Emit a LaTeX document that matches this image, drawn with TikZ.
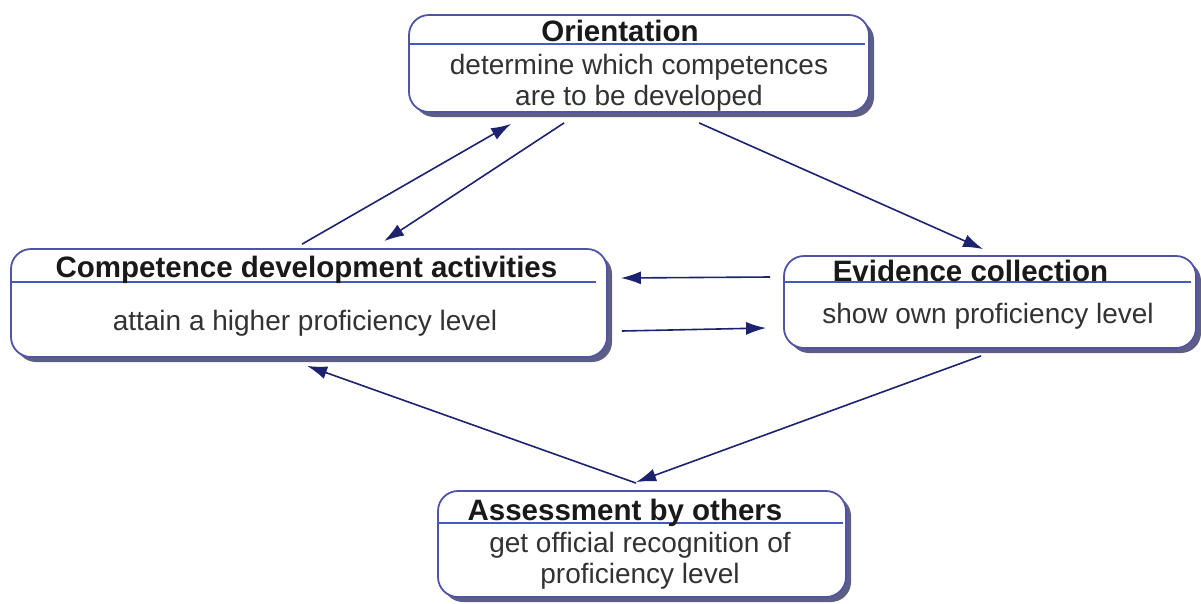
\documentclass[tikz,border=0pt]{standalone}
\usepackage{fontspec}
\setmainfont{Liberation Sans}
\usetikzlibrary{arrows.meta,calc,shadows}
\definecolor{boxc}{RGB}{80,84,165}
\definecolor{hdrc}{RGB}{70,90,190}
\definecolor{arrc}{RGB}{28,34,110}
\definecolor{shc}{RGB}{85,85,125}
\definecolor{txtc}{RGB}{25,25,25}
\definecolor{bodyc}{RGB}{50,50,50}
\tikzset{
  box/.style={draw=boxc, line width=1.8pt, rounded corners=20pt, fill=white,
    inner sep=0pt, drop shadow={shadow xshift=5pt, shadow yshift=-5pt, fill=shc, opacity=0.95}},
  hdr/.style={draw=hdrc, line width=1.4pt},
  ttl/.style={inner sep=0pt, text=txtc, font=\bfseries\fontsize{29.5}{32}\selectfont},
  bdy/.style={inner sep=0pt, text=bodyc, align=center, font=\fontsize{28}{31}\selectfont},
  arr/.style={draw=arrc, line width=1.6pt, -{Latex[length=20pt,width=13pt]}}
}
\begin{document}
\begin{tikzpicture}[x=1pt,y=-1pt]
\useasboundingbox (0,0) rectangle (1201,603);
% boxes
\node[box, minimum width=460pt, minimum height=97pt] (orient) at (639,63.5) {};
\node[box, minimum width=596pt, minimum height=108pt] (comp) at (309,303) {};
\node[box, minimum width=412pt, minimum height=92pt] (evid) at (990,302) {};
\node[box, minimum width=408pt, minimum height=106pt] (assess) at (642,544) {};
% header lines
\draw[hdr] ($(orient.north west)+(1,30)$) -- ($(orient.north east)+(-5,30)$);
\draw[hdr] ($(comp.north west)+(1,34)$) -- ($(comp.north east)+(-12,34)$);
\draw[hdr] ($(evid.north west)+(1,27)$) -- ($(evid.north east)+(-6,27)$);
\draw[hdr] ($(assess.north west)+(1,33)$) -- ($(assess.north east)+(-4,33)$);
% texts
\node[ttl] (orientT) at (620,31) {Orientation};
\node[bdy] (orientB) at (639,83) {determine which competences\\are to be developed};
\node[ttl] (compT) at (306.5,270) {Competence development activities};
\node[bdy] (compB) at (305,323) {attain a higher proficiency level};
\node[ttl] (evidT) at (970.5,271) {Evidence collection};
\node[bdy] (evidB) at (988,316) {show own proficiency level};
\node[ttl] (assessT) at (625,513) {Assessment by others};
\node[bdy] (assessB) at (640,561) {get official recognition of\\proficiency level};
% connectors
\draw[arr] ($(comp.north west)+(292,-4)$) -- ($(orient.south west)+(103,11)$);
\draw[arr] ($(orient.south west)+(156,10)$) -- ($(comp.north west)+(374,-7)$);
\draw[arr] ($(orient.south west)+(291,10)$) -- ($(evid.north west)+(200,-6)$);
\draw[arr] ($(evid.west)+(-13,-25)$) -- ($(comp.east)+(13,-25)$);
\draw[arr] ($(comp.east)+(14,28)$) -- ($(evid.west)+(-17,26)$);
\draw[arr] ($(evid.south west)+(198,7)$) -- ($(assess.north west)+(199,-8)$);
\draw[arr] ($(assess.north west)+(199,-7)$) -- ($(comp.south west)+(297,8)$);
\end{tikzpicture}
\end{document}
